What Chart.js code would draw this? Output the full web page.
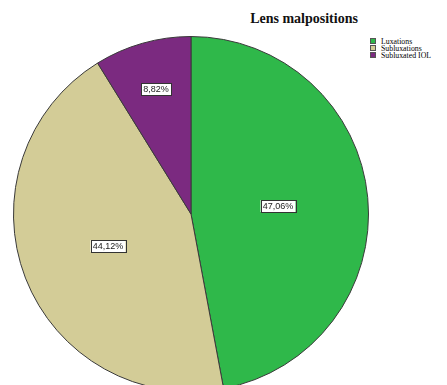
<!DOCTYPE html>
<html>
<head>
<meta charset="utf-8">
<script src="https://cdn.jsdelivr.net/npm/chart.js@4"></script>
<style>
    html, body { margin: 0; padding: 0; background: #fff; }
    body { width: 447px; height: 385px; overflow: hidden; position: relative; }
    #wrap { position: absolute; left: 13px; top: 36px; width: 356px; height: 356px; }
    #title {
        position: absolute; left: 234px; top: 11px; width: 140px; text-align: center;
        font: bold 14px "Liberation Serif", "DejaVu Serif", serif; color: #111;
    }
    #legend { position: absolute; left: 370px; top: 38px; font: 7.8px "Liberation Serif", serif; color: #000; }
    #legend div { height: 7px; line-height: 7px; white-space: nowrap; }
    #legend span { display: inline-block; width: 6px; height: 6px; margin-right: 5px; vertical-align: top; border: 0.5px solid #555; box-sizing: border-box; }
</style>
</head>
<body>
<div id="title">Lens malpositions</div>
<div id="legend"></div>
<div id="wrap"><canvas id="pie"></canvas></div>
<script>
// ------------------------------------------------------------------ data
const categories = ['Luxations', 'Subluxations', 'Subluxated IOL'];
const percents = [47.06, 44.12, 8.82];
const colors = ['#2fb84a', '#d3cc97', '#7b2a80'];

// where each label sits along its slice's middle ray (fraction of radius)
const labelRadius = [0.49, 0.5, 0.73];

// legend
const legendEl = document.getElementById('legend');
categories.forEach((c, i) => {
    const row = document.createElement('div');
    row.innerHTML = `<span style="background:${colors[i]}"></span>${c}`;
    legendEl.appendChild(row);
});

const boxLabels = {
    id: 'boxLabels',
    afterDatasetsDraw(chart) {
        const ctx = chart.ctx;
        const meta = chart.getDatasetMeta(0);
        ctx.save();
        ctx.font = '9px "Liberation Sans", Arial, sans-serif';
        ctx.textAlign = 'center';
        ctx.textBaseline = 'middle';
        meta.data.forEach((arc, i) => {
            const mid = (arc.startAngle + arc.endAngle) / 2;
            const r = arc.outerRadius * labelRadius[i];
            const x = Math.round(arc.x + Math.cos(mid) * r);
            const y = Math.round(arc.y + Math.sin(mid) * r);
            const txt = percents[i].toFixed(2).replace('.', ',') + '%';
            const w = Math.round(ctx.measureText(txt).width + 4);
            const h = 12;
            ctx.fillStyle = '#fff';
            ctx.fillRect(x - w / 2, y - h / 2, w, h);
            ctx.strokeStyle = '#333';
            ctx.lineWidth = 1;
            ctx.strokeRect(Math.round(x - w / 2) + 0.5, y - h / 2 + 0.5, w, h);
            ctx.fillStyle = '#222';
            ctx.fillText(txt, x, y + 1);
        });
        ctx.restore();
    }
};

new Chart(document.getElementById('pie'), {
    type: 'pie',
    data: {
        labels: categories,
        datasets: [{
            data: percents,
            backgroundColor: colors,
            borderColor: '#3a3a3a',
            borderWidth: 1
        }]
    },
    options: {
        responsive: true,
        maintainAspectRatio: false,
        animation: false,
        layout: { padding: 0 },
        plugins: {
            legend: { display: false },
            tooltip: { enabled: false },
            title: { display: false }
        }
    },
    plugins: [boxLabels]
});
</script>
</body>
</html>
